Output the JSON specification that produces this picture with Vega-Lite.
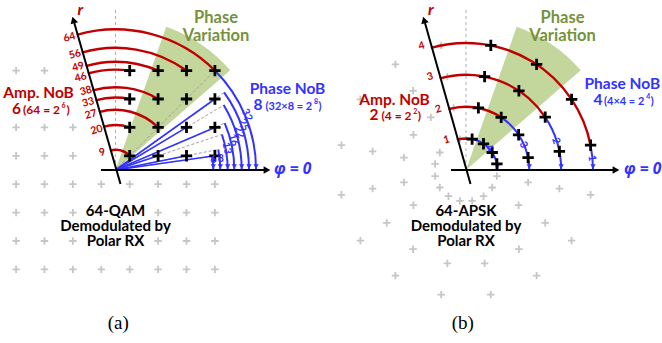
{
  "$schema": "https://vega.github.io/schema/vega-lite/v6.json",
  "width": 662,
  "height": 343,
  "autosize": {"type": "none"},
  "padding": 0,
  "background": "white",
  "config": {"view": {"stroke": null}},
  "datasets": {
    "wedges": [
      {"x": 115.5, "y": 170, "r": 152, "r0": 0, "from": 70.5, "to": 41},
      {"x": 466, "y": 170, "r": 152, "r0": 0, "from": 70.5, "to": 41}
    ],
    "gray": [
      {"x": 16.1, "y": 70.6}, {"x": 44.5, "y": 70.6},
      {"x": 16.1, "y": 127.4}, {"x": 44.5, "y": 127.4}, {"x": 72.9, "y": 127.4},
      {"x": 16.1, "y": 155.8}, {"x": 44.5, "y": 155.8}, {"x": 72.9, "y": 155.8},
      {"x": 16.1, "y": 184.2}, {"x": 44.5, "y": 184.2}, {"x": 72.9, "y": 184.2}, {"x": 101.3, "y": 184.2}, {"x": 129.7, "y": 184.2}, {"x": 158.1, "y": 184.2}, {"x": 186.5, "y": 184.2}, {"x": 214.9, "y": 184.2},
      {"x": 16.1, "y": 212.6}, {"x": 44.5, "y": 212.6}, {"x": 72.9, "y": 212.6}, {"x": 158.1, "y": 212.6}, {"x": 186.5, "y": 212.6}, {"x": 214.9, "y": 212.6},
      {"x": 16.1, "y": 241.0}, {"x": 44.5, "y": 241.0}, {"x": 72.9, "y": 241.0}, {"x": 158.1, "y": 241.0}, {"x": 186.5, "y": 241.0}, {"x": 214.9, "y": 241.0},
      {"x": 16.1, "y": 269.4}, {"x": 44.5, "y": 269.4}, {"x": 72.9, "y": 269.4}, {"x": 101.3, "y": 269.4}, {"x": 129.7, "y": 269.4}, {"x": 158.1, "y": 269.4}, {"x": 186.5, "y": 269.4}, {"x": 214.9, "y": 269.4},
      {"x": 441.2, "y": 45.4}, {"x": 395.4, "y": 64.4}, {"x": 360.4, "y": 99.4}, {"x": 341.4, "y": 145.2}, {"x": 341.4, "y": 194.8}, {"x": 360.4, "y": 240.6}, {"x": 395.4, "y": 275.6}, {"x": 441.2, "y": 294.6}, {"x": 490.8, "y": 294.6}, {"x": 536.6, "y": 275.6}, {"x": 571.6, "y": 240.6}, {"x": 590.6, "y": 194.8},
      {"x": 447.4, "y": 76.6}, {"x": 413.1, "y": 90.8}, {"x": 372.6, "y": 151.4}, {"x": 372.6, "y": 188.6}, {"x": 386.8, "y": 222.9}, {"x": 413.1, "y": 249.2}, {"x": 447.4, "y": 263.4}, {"x": 484.6, "y": 263.4}, {"x": 518.9, "y": 249.2}, {"x": 545.2, "y": 222.9}, {"x": 559.4, "y": 188.6},
      {"x": 453.6, "y": 107.9}, {"x": 430.8, "y": 117.4}, {"x": 413.4, "y": 134.8}, {"x": 403.9, "y": 157.6}, {"x": 403.9, "y": 182.4}, {"x": 413.4, "y": 205.2}, {"x": 518.6, "y": 205.2}, {"x": 528.1, "y": 182.4},
      {"x": 459.9, "y": 139.1}, {"x": 439.8, "y": 152.5}, {"x": 435.1, "y": 163.9}, {"x": 435.1, "y": 176.1}, {"x": 439.8, "y": 187.5}, {"x": 448.5, "y": 196.2}, {"x": 459.9, "y": 200.9}, {"x": 472.1, "y": 200.9}, {"x": 483.5, "y": 196.2}, {"x": 492.2, "y": 187.5}, {"x": 496.9, "y": 176.1}
    ],
    "black": [
      {"x": 129.7, "y": 70.6}, {"x": 158.1, "y": 70.6}, {"x": 186.5, "y": 70.6}, {"x": 214.9, "y": 70.6},
      {"x": 129.7, "y": 99.0}, {"x": 158.1, "y": 99.0}, {"x": 186.5, "y": 99.0}, {"x": 214.9, "y": 99.0},
      {"x": 129.7, "y": 127.4}, {"x": 158.1, "y": 127.4}, {"x": 186.5, "y": 127.4}, {"x": 214.9, "y": 127.4},
      {"x": 129.7, "y": 155.8}, {"x": 158.1, "y": 155.8}, {"x": 186.5, "y": 155.8}, {"x": 214.9, "y": 155.8},
      {"x": 496.9, "y": 163.9}, {"x": 492.2, "y": 152.5}, {"x": 483.5, "y": 143.8}, {"x": 472.1, "y": 139.1},
      {"x": 528.1, "y": 157.6}, {"x": 518.6, "y": 134.8}, {"x": 501.2, "y": 117.4}, {"x": 478.4, "y": 107.9},
      {"x": 559.4, "y": 151.4}, {"x": 545.2, "y": 117.1}, {"x": 518.9, "y": 90.8}, {"x": 484.6, "y": 76.6},
      {"x": 590.6, "y": 145.2}, {"x": 571.6, "y": 99.4}, {"x": 536.6, "y": 64.4}, {"x": 490.8, "y": 45.4}
    ],
    "vguides": [
      {"x": 115.5, "y": 10, "x2": 115.5, "y2": 170},
      {"x": 466, "y": 10, "x2": 466, "y2": 170}
    ],
    "dashRays": [
      {"x": 115.5, "y": 170, "x2": 212.3, "y2": 156.2},
      {"x": 115.5, "y": 170, "x2": 218.3, "y2": 149.4},
      {"x": 115.5, "y": 170, "x2": 221.9, "y2": 134.5},
      {"x": 115.5, "y": 170, "x2": 224.7, "y2": 123.2},
      {"x": 115.5, "y": 170, "x2": 223.7, "y2": 105.1},
      {"x": 115.5, "y": 170, "x2": 224.1, "y2": 92.4},
      {"x": 115.5, "y": 170, "x2": 214.9, "y2": 70.6}
    ],
    "blueRays": [
      {"x": 115.5, "y": 170, "x2": 214.9, "y2": 155.8},
      {"x": 115.5, "y": 170, "x2": 186.5, "y2": 155.8},
      {"x": 115.5, "y": 170, "x2": 158.1, "y2": 155.8},
      {"x": 115.5, "y": 170, "x2": 214.9, "y2": 127.4},
      {"x": 115.5, "y": 170, "x2": 186.5, "y2": 127.4},
      {"x": 115.5, "y": 170, "x2": 214.9, "y2": 99.0}
    ],
    "redArcs": [
      {"x": 115.5, "y": 170, "r": 20.1, "from": 106, "to": 45},
      {"x": 115.5, "y": 170, "r": 44.9, "from": 106, "to": 71.57},
      {"x": 115.5, "y": 170, "r": 60.2, "from": 106, "to": 45},
      {"x": 115.5, "y": 170, "r": 72.4, "from": 106, "to": 78.69},
      {"x": 115.5, "y": 170, "r": 82.8, "from": 106, "to": 59.04},
      {"x": 115.5, "y": 170, "r": 100.4, "from": 106, "to": 81.87},
      {"x": 115.5, "y": 170, "r": 108.1, "from": 106, "to": 66.8},
      {"x": 115.5, "y": 170, "r": 122.2, "from": 106, "to": 54.46},
      {"x": 115.5, "y": 170, "r": 140.6, "from": 106, "to": 45},
      {"x": 466, "y": 170, "r": 31.5, "from": 106, "to": 78.75},
      {"x": 466, "y": 170, "r": 63.3, "from": 106, "to": 56.25},
      {"x": 466, "y": 170, "r": 95.2, "from": 106, "to": 33.75},
      {"x": 466, "y": 170, "r": 127, "from": 106, "to": 11.25}
    ],
    "blueArcs": [
      {"x": 115.5, "y": 170, "r": 97.8, "from": 8.13, "to": 0},
      {"x": 115.5, "y": 170, "r": 104.8, "from": 11.31, "to": 0},
      {"x": 115.5, "y": 170, "r": 112.2, "from": 18.43, "to": 0},
      {"x": 115.5, "y": 170, "r": 118.8, "from": 23.2, "to": 0},
      {"x": 115.5, "y": 170, "r": 126.2, "from": 30.96, "to": 0},
      {"x": 115.5, "y": 170, "r": 133.5, "from": 35.54, "to": 0},
      {"x": 115.5, "y": 170, "r": 140.6, "from": 45, "to": 0},
      {"x": 466, "y": 170, "r": 31.5, "from": 78.75, "to": 0},
      {"x": 466, "y": 170, "r": 63.3, "from": 56.25, "to": 0},
      {"x": 466, "y": 170, "r": 95.2, "from": 33.75, "to": 0},
      {"x": 466, "y": 170, "r": 127, "from": 11.25, "to": 0}
    ],
    "blueTips": [
      {"x": 213.3, "y": 166.5}, {"x": 220.3, "y": 166.5}, {"x": 227.7, "y": 166.5}, {"x": 234.3, "y": 166.5}, {"x": 241.7, "y": 166.5}, {"x": 249.0, "y": 166.5}, {"x": 256.1, "y": 166.5},
      {"x": 497.5, "y": 166.5}, {"x": 529.3, "y": 166.5}, {"x": 561.2, "y": 166.5}, {"x": 593.0, "y": 166.5}
    ],
    "axes": [
      {"x": 101, "y": 170, "x2": 268, "y2": 170},
      {"x": 120.5, "y": 184, "x2": 74.3, "y2": 23},
      {"x": 451, "y": 170, "x2": 617, "y2": 170},
      {"x": 470.5, "y": 184, "x2": 425, "y2": 23}
    ],
    "arrowR": [{"x": 73.4, "y": 20}, {"x": 424.1, "y": 20}],
    "arrowPhi": [{"x": 267, "y": 170}, {"x": 616, "y": 170}]
  },
  "encoding": {
    "x": {"field": "x", "type": "quantitative", "scale": {"domain": [0, 662], "nice": false, "zero": false}, "axis": null},
    "y": {"field": "y", "type": "quantitative", "scale": {"domain": [0, 343], "nice": false, "zero": false, "reverse": true}, "axis": null}
  },
  "layer": [
    {
      "data": {"name": "wedges"},
      "mark": {"type": "arc", "fill": "#c3d69b", "stroke": null},
      "encoding": {
        "theta": {"field": "from", "type": "quantitative", "stack": null, "scale": {"domain": [0, 90], "range": [1.5707963, 0]}},
        "theta2": {"field": "to"},
        "radius": {"field": "r", "type": "quantitative", "scale": {"type": "linear", "domain": [0, 200], "range": [0, 200], "zero": true}},
        "radius2": {"field": "r0"}
      }
    },
    {
      "data": {"name": "gray"},
      "mark": {"type": "point", "shape": "M-1,0H1M0,-1V1", "filled": false, "stroke": "#c6c6c6", "strokeWidth": 1.8, "size": 55, "opacity": 1}
    },
    {
      "data": {"name": "vguides"},
      "mark": {"type": "rule", "stroke": "#b0b0b0", "strokeWidth": 1, "strokeDash": [3, 3]},
      "encoding": {"x2": {"field": "x2"}, "y2": {"field": "y2"}}
    },
    {
      "data": {"name": "dashRays"},
      "mark": {"type": "rule", "stroke": "#a0a0a0", "strokeWidth": 1, "strokeDash": [3, 2]},
      "encoding": {"x2": {"field": "x2"}, "y2": {"field": "y2"}}
    },
    {
      "data": {"name": "blueRays"},
      "mark": {"type": "rule", "stroke": "#3333ff", "strokeWidth": 1.6},
      "encoding": {"x2": {"field": "x2"}, "y2": {"field": "y2"}}
    },
    {
      "data": {"name": "redArcs"},
      "mark": {"type": "arc", "filled": false, "stroke": "#c00000", "strokeWidth": 2.4},
      "encoding": {
        "theta": {"field": "from", "type": "quantitative", "stack": null, "scale": {"domain": [0, 90], "range": [1.5707963, 0]}},
        "theta2": {"field": "to"},
        "radius": {"field": "r", "type": "quantitative", "scale": {"type": "linear", "domain": [0, 200], "range": [0, 200], "zero": true}},
        "radius2": {"field": "r"}
      }
    },
    {
      "data": {"name": "blueArcs"},
      "mark": {"type": "arc", "filled": false, "stroke": "#3333ff", "strokeWidth": 2},
      "encoding": {
        "theta": {"field": "from", "type": "quantitative", "stack": null, "scale": {"domain": [0, 90], "range": [1.5707963, 0]}},
        "theta2": {"field": "to"},
        "radius": {"field": "r", "type": "quantitative", "scale": {"type": "linear", "domain": [0, 200], "range": [0, 200], "zero": true}},
        "radius2": {"field": "r"}
      }
    },
    {
      "data": {"name": "blueTips"},
      "mark": {"type": "point", "shape": "triangle-down", "filled": true, "color": "#3333ff", "size": 28, "opacity": 1}
    },
    {
      "data": {"name": "black"},
      "mark": {"type": "point", "shape": "M-1,0H1M0,-1V1", "filled": false, "stroke": "black", "strokeWidth": 2.8, "size": 130, "opacity": 1}
    },
    {
      "data": {"name": "axes"},
      "mark": {"type": "rule", "stroke": "black", "strokeWidth": 2},
      "encoding": {"x2": {"field": "x2"}, "y2": {"field": "y2"}}
    },
    {
      "data": {"name": "arrowR"},
      "mark": {"type": "point", "shape": "triangle-up", "angle": 344, "filled": true, "color": "black", "size": 60, "opacity": 1}
    },
    {
      "data": {"name": "arrowPhi"},
      "mark": {"type": "point", "shape": "triangle-right", "filled": true, "color": "black", "size": 60, "opacity": 1}
    },
    {
      "data": {"values": [
        {"x": 115.5, "y": 215.5, "t": "64-QAM\nDemodulated by\nPolar RX"},
        {"x": 466, "y": 215.5, "t": "64-APSK\nDemodulated by\nPolar RX"}
      ]},
      "mark": {"type": "text", "font": "Lato", "fontWeight": "bold", "fontSize": 15, "lineHeight": 15, "lineBreak": "\n", "align": "center", "baseline": "alphabetic", "color": "black"},
      "encoding": {"text": {"field": "t"}}
    },
    {
      "data": {"values": [
        {"x": 216, "y": 22.7, "t": "Phase\nVariation"},
        {"x": 562.5, "y": 23.3, "t": "Phase\nVariation"}
      ]},
      "mark": {"type": "text", "font": "Lato", "fontWeight": "bold", "fontSize": 16.5, "lineHeight": 18, "lineBreak": "\n", "align": "center", "baseline": "alphabetic", "color": "#76923c"},
      "encoding": {"text": {"field": "t"}}
    },
    {
      "data": {"values": [
        {"x": 38.5, "y": 98.3, "t": "Amp. NoB"},
        {"x": 394.5, "y": 105, "t": "Amp. NoB"}
      ]},
      "mark": {"type": "text", "font": "Lato", "fontWeight": "bold", "fontSize": 15.5, "align": "center", "baseline": "alphabetic", "color": "#c00000"},
      "encoding": {"text": {"field": "t"}}
    },
    {
      "data": {"values": [
        {"x": 12, "y": 114.3, "t": "6"},
        {"x": 369.5, "y": 120, "t": "2"}
      ]},
      "mark": {"type": "text", "font": "Lato", "fontWeight": "bold", "fontSize": 15.5, "align": "left", "baseline": "alphabetic", "color": "#c00000"},
      "encoding": {"text": {"field": "t"}}
    },
    {
      "data": {"values": [
        {"x": 23, "y": 114.3, "t": "(64 = 2"},
        {"x": 66.5, "y": 114.3, "t": ")"},
        {"x": 381.5, "y": 120, "t": "(4 = 2"},
        {"x": 417.8, "y": 120, "t": ")"}
      ]},
      "mark": {"type": "text", "font": "Lato", "fontWeight": "bold", "fontSize": 12, "align": "left", "baseline": "alphabetic", "color": "#c00000"},
      "encoding": {"text": {"field": "t"}}
    },
    {
      "data": {"values": [
        {"x": 61.6, "y": 107.8, "t": "6"},
        {"x": 413.2, "y": 113.5, "t": "2"}
      ]},
      "mark": {"type": "text", "font": "Lato", "fontWeight": "bold", "fontSize": 7, "align": "left", "baseline": "alphabetic", "color": "#c00000"},
      "encoding": {"text": {"field": "t"}}
    },
    {
      "data": {"values": [
        {"x": 287.5, "y": 94.3, "t": "Phase NoB"},
        {"x": 622.3, "y": 89.3, "t": "Phase NoB"}
      ]},
      "mark": {"type": "text", "font": "Lato", "fontWeight": "bold", "fontSize": 15.5, "align": "center", "baseline": "alphabetic", "color": "#3333ff"},
      "encoding": {"text": {"field": "t"}}
    },
    {
      "data": {"values": [
        {"x": 253.5, "y": 110, "t": "8"},
        {"x": 593.5, "y": 105, "t": "4"}
      ]},
      "mark": {"type": "text", "font": "Lato", "fontWeight": "bold", "fontSize": 15.5, "align": "left", "baseline": "alphabetic", "color": "#3333ff"},
      "encoding": {"text": {"field": "t"}}
    },
    {
      "data": {"values": [
        {"x": 265.5, "y": 110, "t": "(32×8 = 2"},
        {"x": 318.5, "y": 110, "t": ")"},
        {"x": 604, "y": 105, "t": "(4×4 = 2"},
        {"x": 650.8, "y": 105, "t": ")"}
      ]},
      "mark": {"type": "text", "font": "Lato", "fontWeight": "bold", "fontSize": 11, "align": "left", "baseline": "alphabetic", "color": "#3333ff"},
      "encoding": {"text": {"field": "t"}}
    },
    {
      "data": {"values": [
        {"x": 314, "y": 103.8, "t": "8"},
        {"x": 646.3, "y": 98.8, "t": "4"}
      ]},
      "mark": {"type": "text", "font": "Lato", "fontWeight": "bold", "fontSize": 7, "align": "left", "baseline": "alphabetic", "color": "#3333ff"},
      "encoding": {"text": {"field": "t"}}
    },
    {
      "data": {"values": [
        {"x": 274, "y": 174, "t": "φ = 0"},
        {"x": 624, "y": 174, "t": "φ = 0"}
      ]},
      "mark": {"type": "text", "font": "Open Sans", "fontWeight": "bold", "fontStyle": "italic", "fontSize": 15.5, "align": "left", "baseline": "alphabetic", "color": "#3333ff"},
      "encoding": {"text": {"field": "t"}}
    },
    {
      "data": {"values": [
        {"x": 77.5, "y": 15, "t": "r"},
        {"x": 428, "y": 15, "t": "r"}
      ]},
      "mark": {"type": "text", "font": "Lato", "fontWeight": "bold", "fontStyle": "italic", "fontSize": 16, "align": "left", "baseline": "alphabetic", "color": "#c00000"},
      "encoding": {"text": {"field": "t"}}
    },
    {
      "data": {"values": [
        {"x": 118.3, "y": 329, "t": "(a)"},
        {"x": 462.8, "y": 329, "t": "(b)"}
      ]},
      "mark": {"type": "text", "font": "Liberation Serif", "fontSize": 19, "align": "center", "baseline": "alphabetic", "color": "black"},
      "encoding": {"text": {"field": "t"}}
    },
    {
      "data": {"values": [
        {"x": 69.5, "y": 37.5, "t": "64"},
        {"x": 75, "y": 54.5, "t": "56"},
        {"x": 78.3, "y": 67, "t": "49"},
        {"x": 80.7, "y": 77.5, "t": "46"},
        {"x": 86, "y": 91, "t": "38"},
        {"x": 88.3, "y": 102.5, "t": "33"},
        {"x": 91, "y": 114.5, "t": "27"},
        {"x": 96.7, "y": 130, "t": "20"},
        {"x": 102.3, "y": 152.5, "t": "9"},
        {"x": 421.7, "y": 46, "t": "4"},
        {"x": 430, "y": 76.7, "t": "3"},
        {"x": 438.3, "y": 109.3, "t": "2"},
        {"x": 446.7, "y": 140, "t": "1"}
      ]},
      "mark": {"type": "text", "font": "Lato", "fontWeight": "bold", "fontSize": 10.5, "angle": 344, "align": "center", "baseline": "middle", "color": "#c00000"},
      "encoding": {"text": {"field": "t"}}
    },
    {
      "data": {"values": [
        {"x": 246.7, "y": 115, "phi": 23, "t": "32"},
        {"x": 243.3, "y": 125, "phi": 20, "t": "25"},
        {"x": 239.3, "y": 132, "phi": 18, "t": "22"},
        {"x": 233.3, "y": 140, "phi": 15, "t": "16"},
        {"x": 226.7, "y": 148.3, "phi": 11, "t": "13"},
        {"x": 489, "y": 148.3, "phi": 47, "t": "4"},
        {"x": 523.3, "y": 145, "phi": 25, "t": "3"},
        {"x": 555.7, "y": 141, "phi": 18, "t": "2"},
        {"x": 591.7, "y": 158.3, "phi": 6, "t": "1"}
      ]},
      "mark": {"type": "text", "font": "Lato", "fontWeight": "bold", "fontSize": 10.5, "align": "center", "baseline": "middle", "color": "#3333ff"},
      "encoding": {
        "text": {"field": "t"},
        "angle": {"field": "phi", "type": "quantitative", "scale": {"domain": [0, 90], "range": [90, 0]}, "legend": null}
      }
    },
    {
      "data": {"values": [
        {"x": 220.7, "y": 159, "t": "8"},
        {"x": 213.3, "y": 160, "t": "6"}
      ]},
      "mark": {"type": "text", "font": "Lato", "fontWeight": "bold", "fontSize": 10.5, "align": "center", "baseline": "middle", "color": "#3333ff"},
      "encoding": {"text": {"field": "t"}}
    }
  ]
}
